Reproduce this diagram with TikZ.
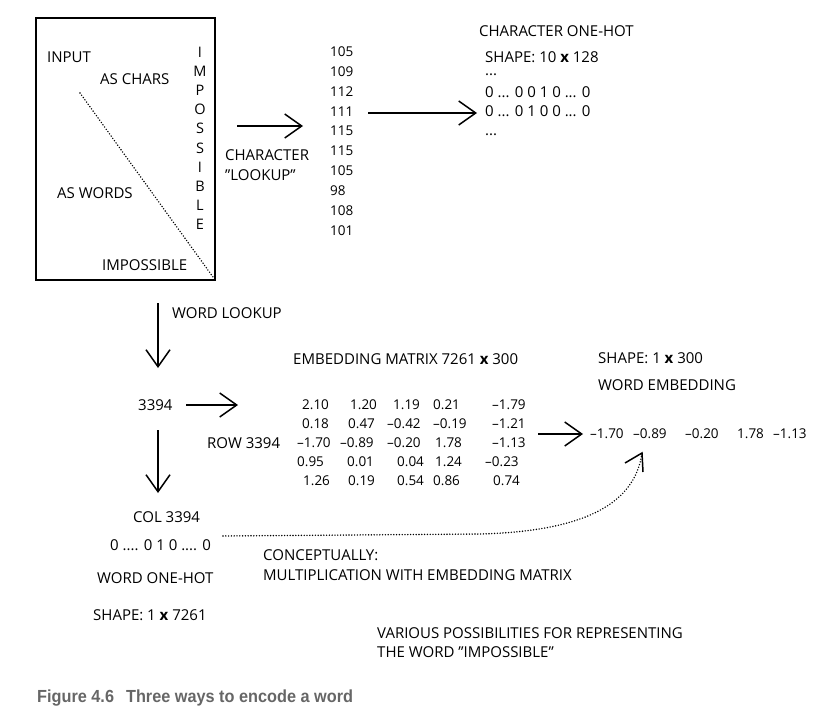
\documentclass[tikz,border=0pt]{standalone}
\usepackage{fontspec}
\setmainfont{Open Sans}
\newfontfamily\capfont{Liberation Sans}[FakeStretch=0.93]
\usetikzlibrary{arrows.meta}
\tikzset{
  lbl/.style={anchor=west, inner sep=0pt, font=\fontsize{15}{17}\selectfont},
  dotlbl/.style={anchor=base west, inner sep=0pt, font=\fontsize{15}{17}\selectfont},
  num/.style={anchor=west, inner sep=0pt, font=\fontsize{13.5}{15}\selectfont},
  vlet/.style={anchor=center, inner sep=0pt, font=\fontsize{14.5}{16}\selectfont},
  arr/.style={line width=1.5pt, -{Straight Barb[length=17pt,width=24pt,line width=1.5pt]}},
  dots/.style={line width=1.6pt, line cap=round, dash pattern=on 0pt off 2.8pt},
  frame/.style={line width=1.8pt}
}
\begin{document}
\begin{tikzpicture}[x=1pt,y=-1pt]
\useasboundingbox (0,0) rectangle (827,717);
% input box
\draw[frame] (36,18) rectangle (215,280);
\node[lbl] (input) at (47,57) {INPUT};
\node[lbl] (aschars) at (100,79) {AS CHARS};
\node[lbl] (aswords) at (57,193) {AS WORDS};
\node[lbl] (impword) at (102,265) {IMPOSSIBLE};
\coordinate (d1) at (80,93);
\coordinate (d2) at (213,277);
\draw[dots] (d1) -- (d2);
\foreach \c [count=\i from 0] in {I,M,P,O,S,S,I,B,L,E}
  \node[vlet] (v\i) at (200,52+19.2*\i) {\c};
% character lookup
\coordinate (a1s) at (237,126);
\coordinate (a1e) at (303,126);
\draw[arr] (a1s) -- (a1e);
\node[lbl] (charlk) at (225,155) {CHARACTER};
\node[lbl] (lookup) at (225,175) {"LOOKUP"};
\foreach \n [count=\i from 0] in {105,109,112,111,115,115,105,98,108,101}
  \node[num] (c\i) at (330,52+19.8*\i) {\n};
\coordinate (a2s) at (368,113);
\coordinate (a2e) at (477,113);
\draw[arr] (a2s) -- (a2e);
\node[lbl] (cohtitle) at (479,31) {CHARACTER ONE-HOT};
\node[lbl] (cohshape) at (485,57) {SHAPE: 10 \textbf{x} 128};
\node[dotlbl] (cohd1) at (485,76) {...};
\node[lbl] (cohr1) at (485,92) {0 ... 0 0 1 0 ... 0};
\node[lbl] (cohr2) at (485,111) {0 ... 0 1 0 0 ... 0};
\node[dotlbl] (cohd2) at (485,135) {...};
% word lookup
\coordinate (a3s) at (158,303);
\coordinate (a3e) at (158,368);
\draw[arr] (a3s) -- (a3e);
\node[lbl] (wordlk) at (172,313) {WORD LOOKUP};
\node[lbl] (idx) at (138,405) {3394};
\coordinate (a4s) at (186,405);
\coordinate (a4e) at (238,405);
\draw[arr] (a4s) -- (a4e);
\node[lbl] (embtitle) at (293,359) {EMBEDDING MATRIX 7261 \textbf{x} 300};
\node[lbl] (rowlbl) at (207,443) {ROW 3394};
% matrix rows: value/x pairs
\foreach \cells [count=\r from 0] in {
  {2.10/302,1.20/350,1.19/393,0.21/433,--1.79/492},
  {0.18/302,0.47/348,--0.42/387,--0.19/433,--1.21/492},
  {--1.70/297,--0.89/340,--0.20/387,1.78/435,--1.13/492},
  {0.95/297,0.01/347,0.04/397,1.24/435,--0.23/485},
  {1.26/303,0.19/348,0.54/397,0.86/433,0.74/493}}
{
  \foreach \v/\x [count=\k from 1] in \cells
    \node[num] (m\r-\k) at (\x,405+19*\r) {\v};
}
\coordinate (a5s) at (538,434);
\coordinate (a5e) at (583,434);
\draw[arr] (a5s) -- (a5e);
\node[lbl] (weshape) at (598,358) {SHAPE: 1 \textbf{x} 300};
\node[lbl] (wetitle) at (598,385) {WORD EMBEDDING};
\node[num] (we1) at (590,434) {--1.70};
\node[num] (we2) at (633,434) {--0.89};
\node[num] (we3) at (685,434) {--0.20};
\node[num] (we4) at (737,434) {1.78};
\node[num] (we5) at (773,434) {--1.13};
% one-hot word
\coordinate (a6s) at (158,430);
\coordinate (a6e) at (158,493);
\draw[arr] (a6s) -- (a6e);
\node[lbl] (col) at (133,517) {COL 3394};
\node[lbl] (wohrow) at (110,545) {0 .... 0 1 0 .... 0};
\node[lbl] (wohtitle) at (97,578) {WORD ONE-HOT};
\node[lbl] (wohshape) at (93,615) {SHAPE: 1 \textbf{x} 7261};
\node[lbl] (concept) at (263,555) {CONCEPTUALLY:};
\node[lbl] (mult) at (263,575) {MULTIPLICATION WITH EMBEDDING MATRIX};
% dotted curve
\coordinate (cs) at (223,536);
\coordinate (cm) at (480,534);
\coordinate (ce) at (642,453);
\draw[dots] (cs) -- (cm) .. controls (600,531) and (636,495) .. (ce);
\draw[line width=1.5pt] (625,463) -- (ce) -- (643,472);
\node[lbl] (var1) at (377,633) {VARIOUS POSSIBILITIES FOR REPRESENTING};
\node[lbl] (var2) at (377,652) {THE WORD "IMPOSSIBLE"};
\node[anchor=west, inner sep=0pt, text=black!60, font=\capfont\bfseries\fontsize{17.5}{19}\selectfont] (caption) at (37,698) {Figure 4.6\hspace{12pt}Three ways to encode a word};
\end{tikzpicture}
\end{document}
